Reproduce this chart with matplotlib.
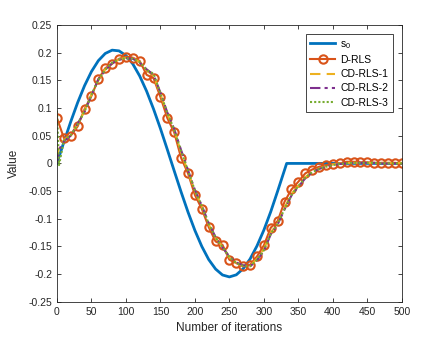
import matplotlib
matplotlib.use("Agg")
import matplotlib.pyplot as plt

# reference signal s0 (sampled every 10 iterations, zero after 333)
n_s0 = [0, 10, 20, 30, 40, 50, 60, 70, 80, 90, 100, 110, 120, 130, 140, 150, 160,
        170, 180, 190, 200, 210, 220, 230, 240, 250, 260, 270, 280, 290, 300, 310,
        320, 330, 333, 400, 500]
s0 = [0.0, 0.0385, 0.0755, 0.1099, 0.1404, 0.1659, 0.1856, 0.1986, 0.2046, 0.2033,
      0.1949, 0.1796, 0.1578, 0.1304, 0.0983, 0.0630, 0.0251, -0.0135, -0.0516,
      -0.0879, -0.1211, -0.1499, -0.1736, -0.1908, -0.2015, -0.2050, -0.2012,
      -0.1901, -0.1726, -0.1490, -0.1203, -0.0870, -0.0498, -0.0116, 0.0, 0.0, 0.0]

n_d = list(range(0, 501, 10))
d_rls = [0.082, 0.046, 0.050, 0.067, 0.098, 0.122, 0.152, 0.172, 0.180, 0.189,
         0.193, 0.191, 0.185, 0.160, 0.154, 0.120, 0.082, 0.056, 0.010, -0.018,
         -0.057, -0.082, -0.115, -0.141, -0.147, -0.174, -0.180, -0.186, -0.183,
         -0.168, -0.148, -0.116, -0.104, -0.069, -0.047, -0.033, -0.018, -0.011,
         -0.006, -0.003, -0.001, 0.000, 0.003, 0.003, 0.002, 0.002, 0.001, 0.001,
         0.001, 0.001, 0.000]

n_cd = [0, 3] + list(range(10, 501, 10))
cd_rls_1 = [0.010, 0.030, 0.042, 0.052, 0.070, 0.095, 0.125, 0.150, 0.170, 0.180,
            0.188, 0.191, 0.190, 0.183, 0.168, 0.158, 0.125, 0.090, 0.060, 0.020,
            -0.015, -0.050, -0.078, -0.110, -0.135, -0.150, -0.170, -0.180, -0.185,
            -0.185, -0.172, -0.155, -0.125, -0.108, -0.080, -0.055, -0.040, -0.025,
            -0.015, -0.009, -0.005, -0.002, 0.000, 0.001, 0.001, 0.001, 0.001, 0.001,
            0.001, 0.001, 0.001, 0.001]
cd_rls_2 = [0.000, 0.025, 0.040, 0.050, 0.072, 0.093, 0.123, 0.152, 0.168, 0.181,
            0.187, 0.190, 0.189, 0.182, 0.170, 0.160, 0.128, 0.092, 0.062, 0.024,
            -0.012, -0.048, -0.076, -0.108, -0.133, -0.152, -0.168, -0.179, -0.184,
            -0.186, -0.175, -0.158, -0.128, -0.110, -0.083, -0.058, -0.042, -0.027,
            -0.016, -0.010, -0.006, -0.003, -0.001, 0.000, 0.001, 0.001, 0.001, 0.001,
            0.000, 0.000, 0.000, 0.000]
cd_rls_3 = [0.095, -0.003, 0.041, 0.051, 0.071, 0.094, 0.124, 0.151, 0.169, 0.182,
            0.188, 0.190, 0.189, 0.183, 0.169, 0.162, 0.127, 0.091, 0.061, 0.022,
            -0.013, -0.049, -0.077, -0.109, -0.134, -0.151, -0.169, -0.180, -0.185,
            -0.186, -0.174, -0.157, -0.127, -0.109, -0.082, -0.057, -0.041, -0.026,
            -0.016, -0.010, -0.006, -0.003, -0.001, 0.000, 0.001, 0.001, 0.001, 0.001,
            0.000, 0.000, 0.000, 0.000]

x_ticks = list(range(0, 501, 50))
y_ticks = [-0.25, -0.2, -0.15, -0.1, -0.05, 0, 0.05, 0.1, 0.15, 0.2, 0.25]
y_labels = ['-0.25', '-0.2', '-0.15', '-0.1', '-0.05', '0', '0.05', '0.1', '0.15', '0.2', '0.25']

plt.rcParams['font.family'] = ['Liberation Sans', 'DejaVu Sans']
fig = plt.figure(figsize=(4.45, 3.38), dpi=100)
ax = fig.add_axes([0.128, 0.107, 0.775, 0.819])

ax.plot(n_s0, s0, color='#0072BD', lw=2, label=r'$\mathregular{s_0}$')
ax.plot(n_d, d_rls, color='#D95319', lw=1.5, marker='o', ms=6, mfc='none',
        mew=1.5, label='D-RLS')
ax.plot(n_cd, cd_rls_1, color='#EDB120', lw=1.5, ls=(0, (5, 3)), label='CD-RLS-1')
ax.plot(n_cd, cd_rls_2, color='#7E2F8E', lw=1.5, ls=(0, (5, 2, 1.5, 2)), label='CD-RLS-2')
ax.plot(n_cd, cd_rls_3, color='#77AC30', lw=1.5, ls=(0, (1, 1)), label='CD-RLS-3')

ax.set_xlim(0, 500)
ax.set_ylim(-0.25, 0.25)
ax.set_xticks(x_ticks)
ax.set_yticks(y_ticks)
ax.set_yticklabels(y_labels)
ax.tick_params(direction='in', length=3, width=0.6, labelsize=7.5, colors='#262626',
               top=True, right=True)
for sp in ax.spines.values():
    sp.set_color('#262626')
    sp.set_linewidth(0.6)
ax.set_xlabel('Number of iterations', fontsize=8.5, color='#262626', labelpad=4)
ax.set_ylabel('Value', fontsize=8.5, color='#262626', labelpad=6)

leg = ax.legend(loc='upper right', bbox_to_anchor=(0.99, 0.985), fontsize=7.5,
                fancybox=False, edgecolor='#262626', framealpha=1,
                handlelength=2.4, borderpad=0.45, labelspacing=0.4, handletextpad=0.5)
leg.get_frame().set_linewidth(0.6)

fig.savefig('out.png', dpi=100)
